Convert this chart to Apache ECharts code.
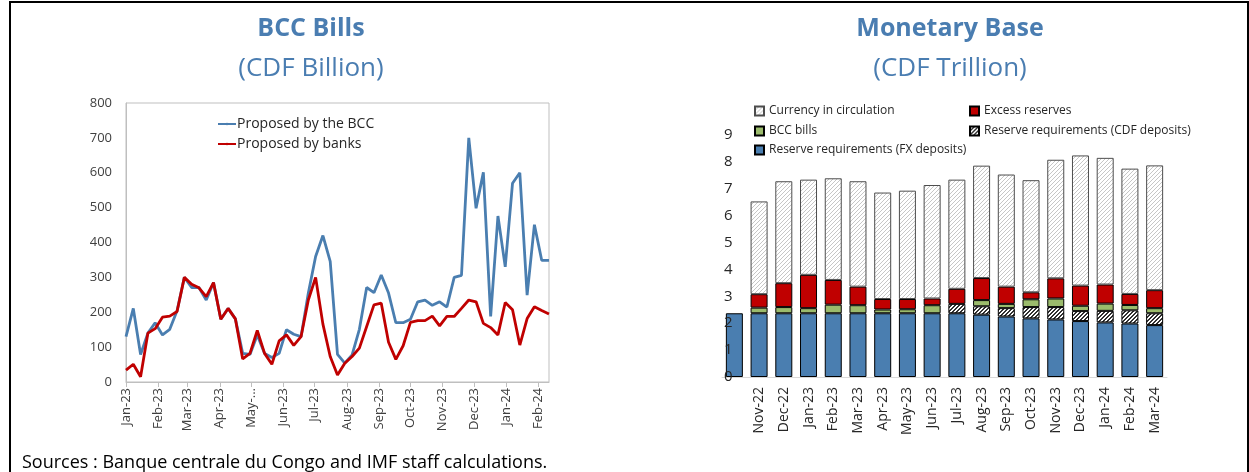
<!DOCTYPE html>
<html>
<head>
<meta charset="utf-8">
<script src="https://cdn.jsdelivr.net/npm/echarts@6/dist/echarts.min.js"></script>
<style>
  html, body { margin: 0; padding: 0; background: #fff; overflow: hidden; }
  #frame { position: absolute; left: 9px; top: 1px; width: 1236px; height: 490px; border: 2px solid #000; }
  #chart { position: absolute; left: 0; top: 0; width: 1249px; height: 472px; }
</style>
</head>
<body>
<div id="frame"></div>
<div id="chart"></div>
<script>
  // BCC bills, weekly auctions (CDF billion)
  var weeks = [
    '2023-01-01','2023-01-08','2023-01-15','2023-01-22','2023-01-29',
    '2023-02-05','2023-02-12','2023-02-19','2023-02-26',
    '2023-03-05','2023-03-12','2023-03-19','2023-03-26',
    '2023-04-02','2023-04-09','2023-04-16','2023-04-23','2023-04-30',
    '2023-05-07','2023-05-14','2023-05-21','2023-05-28',
    '2023-06-04','2023-06-11','2023-06-18','2023-06-25',
    '2023-07-02','2023-07-09','2023-07-16','2023-07-23','2023-07-30',
    '2023-08-06','2023-08-13','2023-08-20','2023-08-27',
    '2023-09-03','2023-09-10','2023-09-17','2023-09-24',
    '2023-10-01','2023-10-08','2023-10-15','2023-10-22','2023-10-29',
    '2023-11-05','2023-11-12','2023-11-19','2023-11-26',
    '2023-12-03','2023-12-10','2023-12-17','2023-12-24','2023-12-31',
    '2024-01-07','2024-01-14','2024-01-21','2024-01-28',
    '2024-02-04','2024-02-11'
  ];
  var byBcc = [
    130, 211, 79, 140, 170, 135, 151, 204, 300, 271, 271, 235, 285,
    180, 211, 181, 82, 79, 135, 82, 70, 82, 150, 137, 130,
    255, 360, 420, 346, 79, 54, 78, 151, 271, 256, 307, 255, 170, 170,
    180, 230, 235, 220, 230, 215, 300, 306, 700, 498, 601, 188, 476,
    330, 570, 600, 249, 451, 349, 349
  ];
  var byBanks = [
    34, 51, 15, 140, 153, 186, 189, 202, 300, 280, 270, 245, 285,
    180, 211, 181, 66, 82, 148, 82, 51, 118, 135, 105, 130,
    235, 300, 166, 73, 20, 54, 73, 97, 159, 221, 226, 114, 65, 104,
    171, 176, 176, 189, 161, 188, 188, 211, 235, 230, 168, 156, 135,
    228, 207, 106, 182, 216, 205, 195
  ];
  var monthNames = ['Jan','Feb','Mar','Apr','May','Jun','Jul','Aug','Sep','Oct','Nov','Dec'];

  // Monetary base (CDF trillion); first slot is the stray bar sitting under the axis labels
  var baseMonths = ['', 'Nov-22','Dec-22','Jan-23','Feb-23','Mar-23','Apr-23','May-23','Jun-23',
    'Jul-23','Aug-23','Sep-23','Oct-23','Nov-23','Dec-23','Jan-24','Feb-24','Mar-24'];
  var rrFx     = [2.37, 2.37, 2.37, 2.37, 2.37, 2.37, 2.37, 2.37, 2.37, 2.37, 2.32, 2.25, 2.18, 2.14, 2.08, 2.03, 1.99, 1.93];
  var rrCdf    = [0, 0, 0, 0, 0, 0, 0, 0, 0, 0.35, 0.31, 0.31, 0.42, 0.46, 0.37, 0.43, 0.49, 0.44];
  var bccBills = [0, 0.21, 0.23, 0.19, 0.32, 0.30, 0.14, 0.15, 0.30, 0, 0.23, 0.16, 0.29, 0.32, 0.20, 0.27, 0.20, 0.19];
  var excess   = [0, 0.50, 0.89, 1.24, 0.92, 0.69, 0.39, 0.38, 0.25, 0.56, 0.82, 0.64, 0.26, 0.75, 0.75, 0.71, 0.41, 0.67];
  var currency = [0, 3.45, 3.79, 3.54, 3.78, 3.92, 3.96, 4.03, 4.22, 4.06, 4.18, 4.17, 4.17, 4.41, 4.84, 4.71, 4.66, 4.64];

  var blue = '#4a7eb0';
  var red = '#c00000';
  var titleBlue = '#4a7db1';
  var font = '"Open Sans", "Noto Sans", sans-serif';

  // fill patterns
  function pattern(fg, test) {
    var cv = document.createElement('canvas');
    cv.width = 4; cv.height = 4;
    var c = cv.getContext('2d');
    c.fillStyle = '#fff';
    c.fillRect(0, 0, 4, 4);
    c.fillStyle = fg;
    for (var x = 0; x < 4; x++) {
      for (var y = 0; y < 4; y++) {
        if (test(x, y)) c.fillRect(x, y, 1, 1);
      }
    }
    return { image: cv, repeat: 'repeat' };
  }
  var lightDots = pattern('#c6c6c6', function (x, y) { return (x + y) % 4 == 3; });
  var darkHatch = pattern('#303030', function (x, y) { return (x + y) % 4 == 3 || (x + y) % 4 == 0; });

  function pairs(vals) {
    var out = [];
    for (var i = 0; i < vals.length; i++) out.push([weeks[i], vals[i]]);
    return out;
  }

  function barSeries(name, data, color, border) {
    return {
      name: name,
      type: 'bar',
      stack: 'base',
      xAxisIndex: 1,
      yAxisIndex: 1,
      barWidth: 17,
      data: data.map(function (v) { return v === 0 ? null : v; }),
      itemStyle: { color: color, borderColor: border || '#000', borderWidth: 1 }
    };
  }

  function smallLegend(name, left, top) {
    return {
      data: [name],
      left: left, top: top,
      icon: 'rect',
      itemWidth: 9, itemHeight: 9, itemGap: 3,
      textStyle: { fontSize: 12, color: '#262626', fontFamily: font },
      selectedMode: false
    };
  }

  var chart = echarts.init(document.getElementById('chart'));
  var option = {
    animation: false,
    textStyle: { fontFamily: font },
    graphic: [
      { type: 'text', x: 311, y: 29, style: { text: 'BCC Bills', fill: titleBlue, font: 'bold 25px ' + font, align: 'center', verticalAlign: 'middle' } },
      { type: 'text', x: 311, y: 69, style: { text: '(CDF Billion)', fill: titleBlue, font: '26px ' + font, align: 'center', verticalAlign: 'middle' } },
      { type: 'text', x: 950, y: 29, style: { text: 'Monetary Base', fill: titleBlue, font: 'bold 25px ' + font, align: 'center', verticalAlign: 'middle' } },
      { type: 'text', x: 950, y: 69, style: { text: '(CDF Trillion)', fill: titleBlue, font: '26px ' + font, align: 'center', verticalAlign: 'middle' } },
      { type: 'text', x: 22, y: 463, style: { text: 'Sources : Banque centrale du Congo and IMF staff calculations.', fill: '#000', font: '18px ' + font, verticalAlign: 'middle' } }
    ],
    legend: [
      {
        data: ['Proposed by the BCC', 'Proposed by banks'],
        orient: 'vertical',
        left: 212, top: 112,
        itemWidth: 18, itemHeight: 3, itemGap: 6,
        textStyle: { fontSize: 14, color: '#262626', padding: [0, 0, 0, -4] },
        selectedMode: false
      },
      smallLegend('Currency in circulation', 749, 100),
      smallLegend('Excess reserves', 964, 100),
      smallLegend('BCC bills', 749, 120),
      smallLegend('Reserve requirements (CDF deposits)', 964, 120),
      smallLegend('Reserve requirements (FX deposits)', 749, 139)
    ],
    grid: [
      { left: 126, top: 103, width: 423, height: 279, show: true, borderColor: '#bfbfbf', borderWidth: 1 },
      { left: 722, top: 135, width: 445, height: 242 }
    ],
    xAxis: [
      {
        type: 'time',
        gridIndex: 0,
        min: weeks[0],
        max: weeks[weeks.length - 1],
        splitNumber: 14,
        minInterval: 28 * 86400000,
        maxInterval: 31 * 86400000,
        axisLine: { lineStyle: { color: '#bfbfbf' } },
        axisTick: { show: true, length: 5, lineStyle: { color: '#bfbfbf' } },
        splitLine: { show: false },
        axisLabel: {
          rotate: 90, fontSize: 13, color: '#404040', margin: 6,
          showMaxLabel: false,
          formatter: function (v) {
            var d = new Date(v);
            if (d.getMonth() == 4) return 'May-...';
            return monthNames[d.getMonth()] + '-' + String(d.getFullYear()).slice(2);
          }
        }
      },
      {
        type: 'category',
        gridIndex: 1,
        data: baseMonths,
        axisLine: { lineStyle: { color: '#d9d9d9' } },
        axisTick: { show: false },
        axisLabel: { rotate: 90, fontSize: 14, color: '#262626', margin: 10, interval: 0 }
      }
    ],
    yAxis: [
      {
        type: 'value',
        gridIndex: 0,
        min: 0, max: 800, interval: 100,
        axisLine: { show: true, lineStyle: { color: '#bfbfbf' } },
        axisTick: { show: false },
        splitLine: { show: false },
        axisLabel: { fontSize: 13, color: '#404040', margin: 14 }
      },
      {
        type: 'value',
        gridIndex: 1,
        min: 0, max: 9, interval: 1,
        z: 10,
        axisLine: { show: false },
        axisTick: { show: false },
        splitLine: { show: false },
        axisLabel: { inside: true, margin: 2, fontSize: 15, color: '#262626' }
      }
    ],
    series: [
      {
        name: 'Proposed by the BCC',
        type: 'line',
        data: pairs(byBcc),
        symbol: 'none',
        lineStyle: { color: blue, width: 2.8 },
        itemStyle: { color: blue },
        z: 2
      },
      {
        name: 'Proposed by banks',
        type: 'line',
        data: pairs(byBanks),
        symbol: 'none',
        lineStyle: { color: red, width: 2.8 },
        itemStyle: { color: red },
        z: 3
      },
      barSeries('Reserve requirements (FX deposits)', rrFx, blue),
      barSeries('Reserve requirements (CDF deposits)', rrCdf, darkHatch),
      barSeries('BCC bills', bccBills, '#9bbb6c'),
      barSeries('Excess reserves', excess, red),
      barSeries('Currency in circulation', currency, lightDots, '#4d4d4d')
    ]
  };
  chart.setOption(option);
</script>
</body>
</html>
